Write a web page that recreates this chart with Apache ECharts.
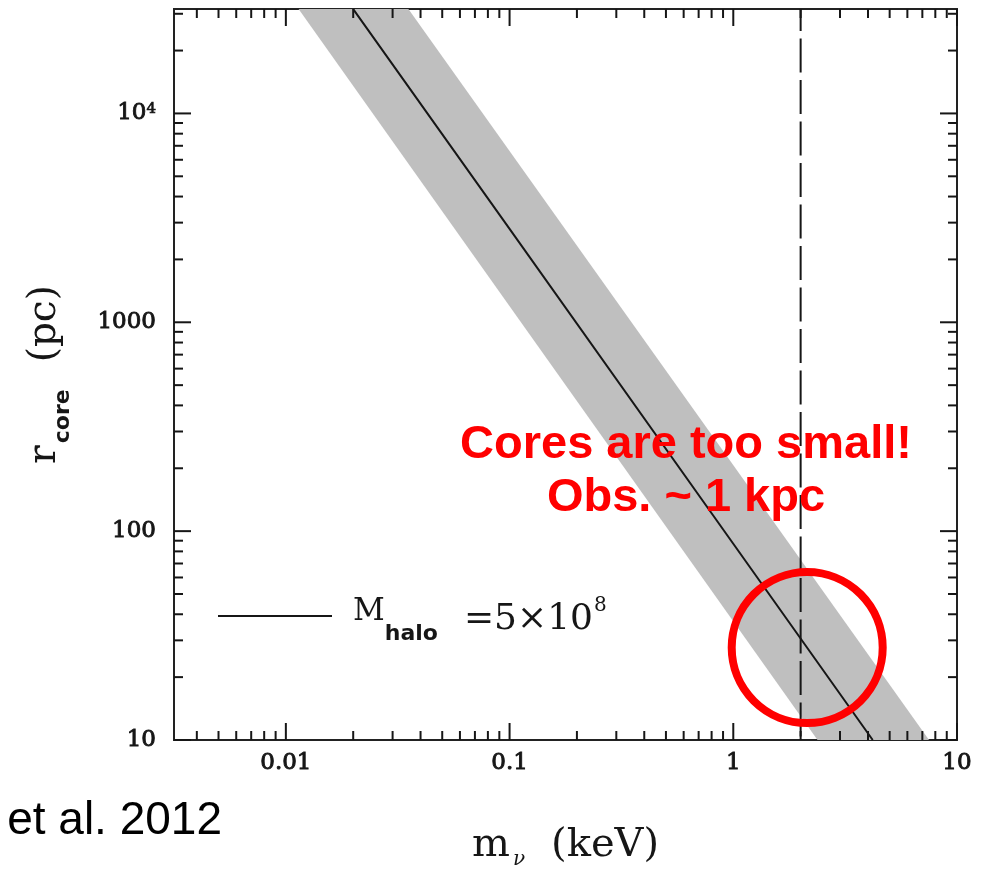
<!DOCTYPE html>
<html>
<head>
<meta charset="utf-8">
<title>r_core vs m_nu</title>
<script src="https://cdn.jsdelivr.net/npm/echarts@6/dist/echarts.min.js"></script>
<style>
  html, body { margin: 0; padding: 0; background: #ffffff; }
  #chart { width: 987px; height: 870px; }
</style>
</head>
<body>
<div id="chart"></div>
<script>
// Axis ranges: log axes spanning half-decade margins
const X_MIN = Math.pow(10, -2.5);
const X_MAX = 10;
const Y_MIN = 10;
const Y_MAX = Math.pow(10, 4.5);

// Core radius (pc) against particle mass (keV) for M_halo = 5e8
const massKeV = [0.02, 0.1, 1, 4.2];
const rCorePc = [31600, 2800, 87, 10];

// Spread band: lower-radius edge and upper-radius edge
const bandLowMass = [0.0114, 2.38];
const bandLowR = [31600, 10];
const bandHighMass = [0.0353, 7.5];
const bandHighR = [31600, 10];

// Reference particle mass (dashed vertical line)
const refMass = 2;

// Highlight ring position
const ringMass = [2.14];
const ringR = [27.7];

// Axis tick labels
const xTickValues = [0.01, 0.1, 1, 10];
const xTickLabels = ['0.01', '0.1', '1', '10'];
const yTickValues = [10, 100, 1000, 10000];
const yTickLabels = ['10', '100', '1000', '10{s|4}'];

// Minor (2..9 per decade) ticks inside the ranges
function minorTicks(lo, hi, e0, e1) {
  const out = [];
  for (let e = e0; e <= e1; e++) {
    for (let k = 2; k <= 9; k++) {
      const v = k * Math.pow(10, e);
      if (v > lo * 1.0001 && v < hi * 0.9999) out.push(v);
    }
  }
  return out;
}
const xMinor = minorTicks(X_MIN, X_MAX, -3, 0);
const yMinor = minorTicks(Y_MIN, Y_MAX, 1, 4);

const INK = '#161616';
const MAJOR_LEN = 17;
const MINOR_LEN = 9;

function labelStyle(text, align) {
  return {
    text: text,
    fontFamily: 'DejaVu Serif', fontSize: 23, fontWeight: 'normal',
    fill: INK, stroke: INK, lineWidth: 0.9,
    align: align, verticalAlign: 'middle',
    textAlign: align, textVerticalAlign: 'middle',
    rich: {
      s: { fontFamily: 'DejaVu Serif', fontSize: 15, lineHeight: 15, verticalAlign: 'top',
           fill: INK, stroke: INK, lineWidth: 0.7, padding: [0, 0, 8, 0] }
    }
  };
}

const chart = echarts.init(document.getElementById('chart'), null, { renderer: 'canvas' });

const xTickData = xTickValues.map((v, i) => [v, Y_MIN, 1, i])
  .concat(xMinor.map(v => [v, Y_MIN, 0, -1]));
const yTickData = yTickValues.map((v, i) => [X_MIN, v, 1, i])
  .concat(yMinor.map(v => [X_MIN, v, 0, -1]));

function tickLine(x1, y1, x2, y2) {
  return { type: 'line', shape: { x1, y1, x2, y2 }, style: { stroke: INK, lineWidth: 2 } };
}

const option = {
  animation: false,
  backgroundColor: '#ffffff',
  grid: {
    left: 174, right: 30, top: 9, bottom: 130,
    show: true, borderColor: '#222222', borderWidth: 2,
    backgroundColor: 'transparent',
    containLabel: false, outerBoundsMode: 'none'
  },
  xAxis: {
    type: 'log', logBase: 10, min: X_MIN, max: X_MAX,
    axisLine: { show: false }, axisTick: { show: false },
    axisLabel: { show: false }, splitLine: { show: false },
    name: '{m|m}{nu|ν}{k|(keV)}',
    nameLocation: 'middle', nameGap: 88,
    nameTextStyle: {
      color: INK,
      rich: {
        m: { fontFamily: 'DejaVu Serif', fontSize: 40, lineHeight: 40, color: INK, padding: [4, 0, 8, 0] },
        nu: { fontFamily: 'DejaVu Serif', fontStyle: 'italic', fontSize: 20, lineHeight: 20, color: INK, padding: [28, 0, 4, 3] },
        k: { fontFamily: 'DejaVu Serif', fontSize: 40, lineHeight: 40, color: INK, padding: [4, 0, 8, 26] }
      }
    }
  },
  yAxis: {
    type: 'log', logBase: 10, min: Y_MIN, max: Y_MAX,
    axisLine: { show: false }, axisTick: { show: false },
    axisLabel: { show: false }, splitLine: { show: false },
    name: '{r|r}{c|core}{p|(pc)}',
    nameLocation: 'middle', nameGap: 106, nameRotate: 90,
    nameTextStyle: {
      color: INK,
      rich: {
        r: { fontFamily: 'DejaVu Serif', fontSize: 39, lineHeight: 39, color: INK, padding: [8.8, 0, 16.2, 0] },
        c: { fontFamily: 'DejaVu Sans', fontWeight: 'bold', fontSize: 22, lineHeight: 22, color: INK, padding: [36, 0, 6, 2] },
        p: { fontFamily: 'DejaVu Serif', fontSize: 39, lineHeight: 39, color: INK, padding: [8.8, 0, 16.2, 27] }
      }
    }
  },
  legend: {
    data: [{ name: 'Mhalo', icon: 'rect' }],
    left: 218, top: 586, padding: 0,
    itemWidth: 114, itemHeight: 2,
    selectedMode: false,
    itemStyle: { color: INK },
    formatter: () => '{m|M}{sub|halo}{eq|=5×10}{sup|8}',
    textStyle: {
      color: INK,
      rich: {
        m: { fontFamily: 'DejaVu Serif', fontSize: 31, lineHeight: 31, color: INK, padding: [10.5, 0, 18.5, 16] },
        sub: { fontFamily: 'DejaVu Sans', fontWeight: 'bold', fontSize: 22, lineHeight: 22, color: INK, padding: [37.3, 0, 0.7, 0] },
        eq: { fontFamily: 'DejaVu Serif', fontSize: 36, lineHeight: 36, color: INK, padding: [15.4, 0, 8.6, 26] },
        sup: { fontFamily: 'DejaVu Serif', fontSize: 20, lineHeight: 20, color: INK, padding: [9.5, 0, 30.5, 1] }
      }
    }
  },
  series: [
    {
      // grey spread band
      type: 'custom',
      name: 'band',
      z: 1,
      data: bandLowMass.map((m, i) => [m, bandLowR[i]]),
      encode: { x: 0, y: 1 },
      renderItem(params, api) {
        if (params.dataIndex !== 0) return null;
        const pts = [];
        for (let i = 0; i < bandLowMass.length; i++) pts.push(api.coord([bandLowMass[i], bandLowR[i]]));
        for (let i = bandHighMass.length - 1; i >= 0; i--) pts.push(api.coord([bandHighMass[i], bandHighR[i]]));
        return { type: 'polygon', shape: { points: pts }, style: { fill: '#bfbfbf' } };
      },
      silent: true
    },
    {
      // x-axis ticks (bottom and top) with labels
      type: 'custom',
      name: 'xticks',
      z: 5,
      data: xTickData,
      encode: { x: 0, y: 1 },
      silent: true,
      renderItem(params, api) {
        const v = api.value(0);
        const major = api.value(2) === 1;
        const len = major ? MAJOR_LEN : MINOR_LEN;
        const b = api.coord([v, Y_MIN]);
        const t = api.coord([v, Y_MAX]);
        const children = [
          tickLine(b[0], b[1], b[0], b[1] - len),
          tickLine(t[0], t[1], t[0], t[1] + len)
        ];
        if (major) {
          children.push({ type: 'text', x: b[0], y: b[1] + 23, style: labelStyle(xTickLabels[api.value(3)], 'center') });
        }
        return { type: 'group', children };
      }
    },
    {
      // y-axis ticks (left and right) with labels
      type: 'custom',
      name: 'yticks',
      z: 5,
      data: yTickData,
      encode: { x: 0, y: 1 },
      silent: true,
      renderItem(params, api) {
        const v = api.value(1);
        const major = api.value(2) === 1;
        const len = major ? MAJOR_LEN : MINOR_LEN;
        const l = api.coord([X_MIN, v]);
        const r = api.coord([X_MAX, v]);
        const children = [
          tickLine(l[0], l[1], l[0] + len, l[1]),
          tickLine(r[0], r[1], r[0] - len, r[1])
        ];
        if (major) {
          children.push({ type: 'text', x: l[0] - 18, y: l[1], style: labelStyle(yTickLabels[api.value(3)], 'right') });
        }
        return { type: 'group', children };
      }
    },
    {
      type: 'line',
      name: 'Mhalo',
      z: 6,
      data: massKeV.map((m, i) => [m, rCorePc[i]]),
      symbol: 'none',
      showSymbol: false,
      lineStyle: { color: INK, width: 2 },
      itemStyle: { color: INK },
      emphasis: { disabled: true }
    },
    {
      type: 'line',
      name: 'ref',
      z: 6,
      data: [[refMass, Y_MAX], [refMass, Y_MIN]],
      symbol: 'none',
      lineStyle: { color: INK, width: 2, type: [34, 7.5], dashOffset: 12 },
      emphasis: { disabled: true }
    },
    {
      type: 'scatter',
      name: 'ring',
      z: 8,
      data: ringMass.map((m, i) => [m, ringR[i]]),
      symbol: 'circle',
      symbolSize: 151,
      itemStyle: { color: 'rgba(0,0,0,0)', borderColor: '#ff0000', borderWidth: 8, opacity: 1 },
      emphasis: { disabled: true },
      silent: true
    }
  ],
  graphic: [
    {
      type: 'text', x: 686, y: 471.5, z: 100,
      style: {
        text: 'Cores are too small!\nObs. ~ 1 kpc',
        font: 'bold 47px "Liberation Sans"', fill: '#ff0000', lineHeight: 53,
        align: 'center', verticalAlign: 'middle',
        textAlign: 'center', textVerticalAlign: 'middle'
      }
    },
    {
      type: 'text', x: 222, y: 821, z: 100,
      style: {
        text: 'et al. 2012',
        font: '46px "Liberation Sans"', fill: '#000000',
        align: 'right', verticalAlign: 'middle',
        textAlign: 'right', textVerticalAlign: 'middle'
      }
    }
  ]
};

chart.setOption(option);
</script>
</body>
</html>
